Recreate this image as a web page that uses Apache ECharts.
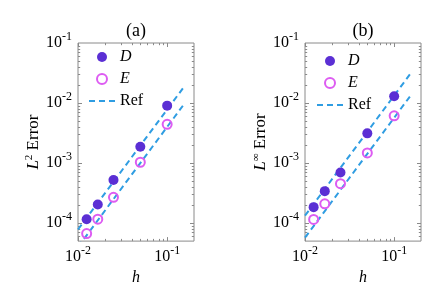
<!DOCTYPE html>
<html><head><meta charset="utf-8">
<script src="https://cdn.jsdelivr.net/npm/echarts@6/dist/echarts.min.js"></script>
<style>html,body{margin:0;padding:0;background:#fff}#c{width:443px;height:291px}</style>
</head><body><div id="c"></div>
<script>
// ---- data ----
const h = [0.1, 0.05, 0.025, 0.016667, 0.0125];
const l2D = [0.00904, 0.00187, 0.00052, 0.000203, 0.000116];
const l2E = [0.00442, 0.00103, 0.000268, 0.000116, 0.0000667];
const linfD = [0.013, 0.00312, 0.000694, 0.00034, 0.000184];
const linfE = [0.00613, 0.00147, 0.000453, 0.000209, 0.000115];
const refH = [0.01, 0.15];
const l2RefUpper = [0.000078, 0.01755];
const l2RefLower = [0.00004, 0.009];
const linfRefUpper = [0.000133, 0.0299];
const linfRefLower = [0.000057, 0.0128];
const xMajor = [0.01, 0.1];
const xMinor = [0.02, 0.03, 0.04, 0.05, 0.06, 0.07, 0.08, 0.09];
const yMajor = [1e-4, 1e-3, 1e-2];
const yMinor = [6e-5, 7e-5, 8e-5, 9e-5,
  2e-4, 3e-4, 4e-4, 5e-4, 6e-4, 7e-4, 8e-4, 9e-4,
  2e-3, 3e-3, 4e-3, 5e-3, 6e-3, 7e-3, 8e-3, 9e-3,
  2e-2, 3e-2, 4e-2, 5e-2, 6e-2, 7e-2, 8e-2, 9e-2];
const X_MIN = 0.01, X_MAX = 0.2, Y_MIN = 5e-5, Y_MAX = 0.1;

const FONT = 'Liberation Serif';
const C_D = '#5b2fd4', C_E = '#dd5cf2', C_REF = '#2f9de2', C_BOX = '#8a8a8a';

const zip = (a, b) => a.map((v, i) => [v, b[i]]);

function tickData() {
  const d = [];
  xMajor.forEach(v => d.push([v, Y_MIN, 4, 0]));
  xMinor.forEach(v => d.push([v, Y_MIN, 2.2, 0]));
  yMajor.forEach(v => d.push([X_MIN, v, 4, 1]));
  yMinor.forEach(v => d.push([X_MIN, v, 2.2, 1]));
  return d;
}
function renderTick(params, api) {
  const p = api.coord([api.value(0), api.value(1)]);
  const lo = api.coord([X_MIN, Y_MIN]);
  const hi = api.coord([X_MAX, Y_MAX]);
  const len = api.value(2);
  const st = { stroke: C_BOX, lineWidth: 1 };
  let l1, l2;
  if (api.value(3) === 0) {
    const x = Math.round(p[0]) + 0.5;
    l1 = { x1: x, y1: lo[1], x2: x, y2: lo[1] - len };
    l2 = { x1: x, y1: hi[1], x2: x, y2: hi[1] + len };
  } else {
    const y = Math.round(p[1]) + 0.5;
    l1 = { x1: lo[0], y1: y, x2: lo[0] + len, y2: y };
    l2 = { x1: hi[0], y1: y, x2: hi[0] - len, y2: y };
  }
  return { type: 'group', children: [
    { type: 'line', shape: l1, style: st },
    { type: 'line', shape: l2, style: st }
  ]};
}

function powLabel(v) {
  const e = Math.log10(v);
  if (Math.abs(e - Math.round(e)) > 1e-6) return '';
  return '{b|10}{s|' + Math.round(e) + '}';
}
const labelRich = {
  b: { fontSize: 16, lineHeight: 24, fontFamily: FONT, color: '#000' },
  s: { fontSize: 12, lineHeight: 12, verticalAlign: 'top', fontFamily: FONT, color: '#000' }
};

function xAxis(gi) {
  return {
    type: 'log', logBase: 10, gridIndex: gi, min: X_MIN, max: X_MAX,
    axisLine: { show: false }, axisTick: { show: false }, splitLine: { show: false },
    axisLabel: { formatter: powLabel, rich: labelRich, margin: 4, showMinLabel: true, showMaxLabel: false },
    name: 'h', nameLocation: 'middle', nameGap: 27,
    nameTextStyle: { fontFamily: FONT, fontStyle: 'italic', fontSize: 16, color: '#000' }
  };
}
function yAxis(gi, sup) {
  return {
    type: 'log', logBase: 10, gridIndex: gi, min: Y_MIN, max: Y_MAX,
    axisLine: { show: false }, axisTick: { show: false }, splitLine: { show: false },
    axisLabel: { formatter: powLabel, rich: labelRich, margin: 6, showMinLabel: false },
    name: '{i|L}{s|' + sup + '} {r|Error}', nameLocation: 'middle', nameGap: 31, nameRotate: 90,
    nameTextStyle: {
      fontFamily: FONT, fontSize: 17, color: '#000',
      rich: {
        i: { fontStyle: 'italic', fontSize: 17, fontFamily: FONT, color: '#000' },
        s: { fontSize: 11, verticalAlign: 'top', lineHeight: 11, fontFamily: FONT, color: '#000' },
        r: { fontSize: 17, lineHeight: 20, fontFamily: FONT, color: '#000' }
      }
    }
  };
}
function legend(left, top) {
  return {
    left: left, top: top, padding: 0, orient: 'vertical', itemWidth: 26, itemHeight: 10, itemGap: 6,
    data: ['D', 'E', { name: 'Ref', itemStyle: { opacity: 0 } }], selectedMode: false,
    formatter: n => n === 'Ref' ? n : '{i|' + n + '}',
    textStyle: {
      fontFamily: FONT, fontSize: 16, color: '#000', lineHeight: 14.5,
      rich: { i: { fontStyle: 'italic', fontFamily: FONT, fontSize: 16, color: '#000' } }
    }
  };
}
function panelSeries(gi, dVals, eVals, up, low) {
  return [
    { type: 'custom', xAxisIndex: gi, yAxisIndex: gi, data: tickData(), renderItem: renderTick, silent: true, z: 1 },
    { name: 'Ref', type: 'line', xAxisIndex: gi, yAxisIndex: gi, data: zip(refH, up), symbol: 'none',
      lineStyle: { color: C_REF, width: 2, type: [6, 4] }, itemStyle: { color: C_REF }, z: 2 },
    { name: 'Ref', type: 'line', xAxisIndex: gi, yAxisIndex: gi, data: zip(refH, low), symbol: 'none',
      lineStyle: { color: C_REF, width: 2, type: [6, 4] }, itemStyle: { color: C_REF }, z: 2 },
    { name: 'D', type: 'scatter', xAxisIndex: gi, yAxisIndex: gi, data: zip(h, dVals), symbol: 'circle', symbolSize: 10,
      itemStyle: { color: C_D, opacity: 1 }, z: 3 },
    { name: 'E', type: 'scatter', xAxisIndex: gi, yAxisIndex: gi, data: zip(h, eVals), symbol: 'circle', symbolSize: 9,
      itemStyle: { color: 'rgba(255,255,255,0)', borderColor: C_E, borderWidth: 2, opacity: 1 }, z: 3 }
  ];
}

const chart = echarts.init(document.getElementById('c'), null, { renderer: 'canvas' });
chart.setOption({
  animation: false,
  backgroundColor: '#fff',
  grid: [
    { left: 78, top: 43, width: 116, height: 201, show: true, borderColor: C_BOX, borderWidth: 1 },
    { left: 305, top: 43, width: 116, height: 201, show: true, borderColor: C_BOX, borderWidth: 1 }
  ],
  xAxis: [xAxis(0), xAxis(1)],
  yAxis: [yAxis(0, '2'), yAxis(1, '∞')],
  legend: [legend(88, 49), legend(316, 53)],
  graphic: [
    { type: 'text', x: 136, y: 31, style: { text: '(a)', align: 'center', verticalAlign: 'middle', fontFamily: FONT, fontSize: 18, fill: '#000' } },
    { type: 'text', x: 363, y: 31, style: { text: '(b)', align: 'center', verticalAlign: 'middle', fontFamily: FONT, fontSize: 18, fill: '#000' } }
  ],
  series: [
    ...panelSeries(0, l2D, l2E, l2RefUpper, l2RefLower),
    ...panelSeries(1, linfD, linfE, linfRefUpper, linfRefLower)
  ]
});
</script></body></html>
